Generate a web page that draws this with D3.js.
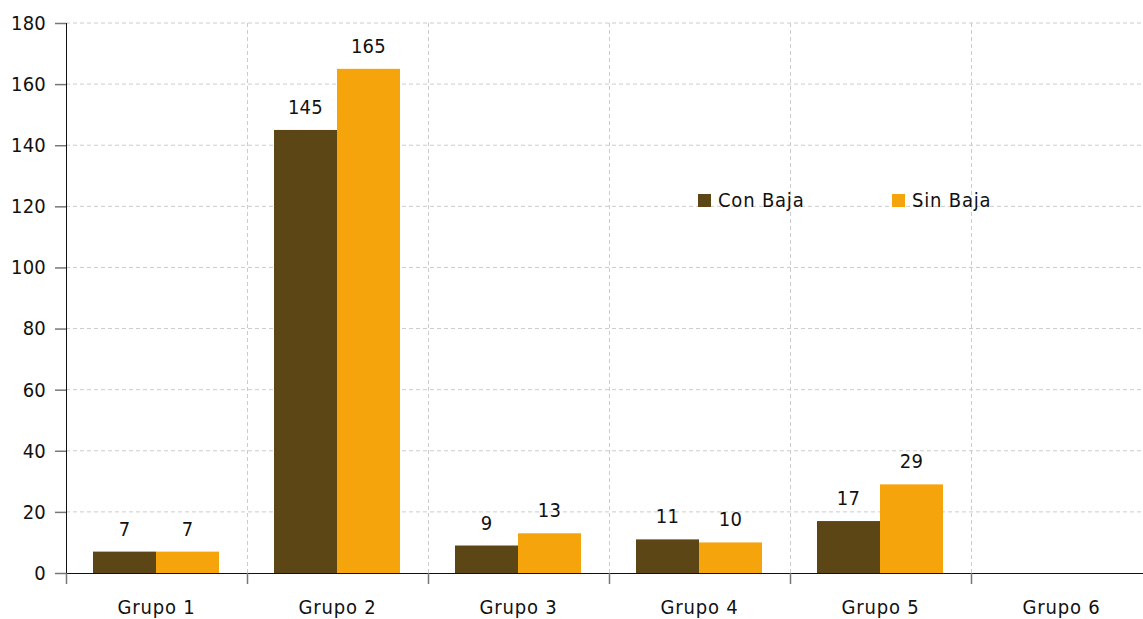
<!DOCTYPE html>
<html><head><meta charset="utf-8">
<script src="https://cdn.jsdelivr.net/npm/d3@7"></script>
<style>body{margin:0;background:#fff}text{font-family:"DejaVu Sans Condensed","DejaVu Sans",sans-serif}</style>
</head><body><svg id="c" width="1143" height="619"></svg>
<script>
const categories = ["Grupo 1","Grupo 2","Grupo 3","Grupo 4","Grupo 5","Grupo 6"];
const seriesNames = ["Con Baja","Sin Baja"];
const conBaja = [7,145,9,11,17,null];
const sinBaja = [7,165,13,10,29,null];
const yTicks = [0,20,40,60,80,100,120,140,160,180];
const colors = ["#5c4616","#f6a40b"];

const FONT = '"DejaVu Sans Condensed","DejaVu Sans",sans-serif';
const FS = 20;
const svg = d3.select("#c");
const m = {l:66, t:23, b:46};
const W = 1143, H = 619;
const x = d3.scaleBand().domain(categories).range([m.l, m.l + 181*6]).paddingInner(0).paddingOuter(0);
const y = d3.scaleLinear().domain([0,180]).range([573, 23]);
const x1 = d3.scaleBand().domain(seriesNames).range([27, x.bandwidth()-28]).padding(0);

// grid
const g = svg.append("g");
g.selectAll("line.h").data(yTicks.filter(d=>d>0)).join("line")
  .attr("x1", m.l).attr("x2", W).attr("y1", d=>y(d)).attr("y2", d=>y(d))
  .attr("stroke","#cccccc").attr("stroke-dasharray","4,3");
g.selectAll("line.v").data(categories.slice(1)).join("line")
  .attr("x1", d=>x(d)+0.5).attr("x2", d=>x(d)+0.5).attr("y1", y(180)).attr("y2", y(0))
  .attr("stroke","#cccccc").attr("stroke-dasharray","4,3");

// bars
const data = categories.map((c,i)=>({c, vals:[conBaja[i], sinBaja[i]]}));
const grp = svg.append("g").selectAll("g").data(data).join("g").attr("transform", d=>`translate(${x(d.c)},0)`);
grp.selectAll("rect").data(d=>d.vals.map((v,j)=>({v, s:seriesNames[j], j})).filter(e=>e.v!=null)).join("rect")
  .attr("x", e=>x1(e.s)).attr("width", x1.bandwidth())
  .attr("y", e=>y(e.v)).attr("height", e=>y(0)-y(e.v)).attr("fill", e=>colors[e.j]);
grp.selectAll("text").data(d=>d.vals.map((v,j)=>({v, s:seriesNames[j], j})).filter(e=>e.v!=null)).join("text")
  .attr("x", e=>x1(e.s)+x1.bandwidth()/2).attr("y", e=>y(e.v)-16)
  .attr("text-anchor","middle").attr("font-size",FS).attr("letter-spacing",0.3).attr("fill","#111").text(e=>e.v);

// y axis
const ya = svg.append("g").attr("transform",`translate(${m.l},0)`)
  .call(d3.axisLeft(y).tickValues(yTicks).tickSize(11).tickPadding(9));
ya.select(".domain").attr("stroke","#111").attr("d", `M0.5,${y(180)}V${y(0)}`);
ya.selectAll(".tick line").attr("stroke","#777").attr("stroke-width",1.5);
ya.selectAll(".tick text").attr("font-size",FS).attr("letter-spacing",0.2).attr("fill","#111").attr("font-family",FONT);

// x axis
const xa = svg.append("g").attr("transform",`translate(0,${y(0)})`)
  .call(d3.axisBottom(x).tickSize(0).tickPadding(27));
xa.select(".domain").attr("stroke","#111").attr("d", `M${m.l},0.5H${W}`);
xa.selectAll(".tick text").attr("font-size",FS).attr("letter-spacing",0.8).attr("fill","#111").attr("font-family",FONT);
svg.append("g").selectAll("line").data(categories).join("line")
  .attr("x1", d=>x(d)+0.5).attr("x2", d=>x(d)+0.5).attr("y1", y(0)).attr("y2", y(0)+11)
  .attr("stroke","#777").attr("stroke-width",1.5);

// legend
const lg = svg.append("g").selectAll("g").data(seriesNames).join("g")
  .attr("transform",(d,i)=>`translate(${698+i*194},194)`);
lg.append("rect").attr("width",13).attr("height",13).attr("fill",(d,i)=>colors[i]);
lg.append("text").attr("x",20).attr("y",13).attr("font-size",FS).attr("letter-spacing",0.8).attr("fill","#111").text(d=>d);
</script></body></html>
